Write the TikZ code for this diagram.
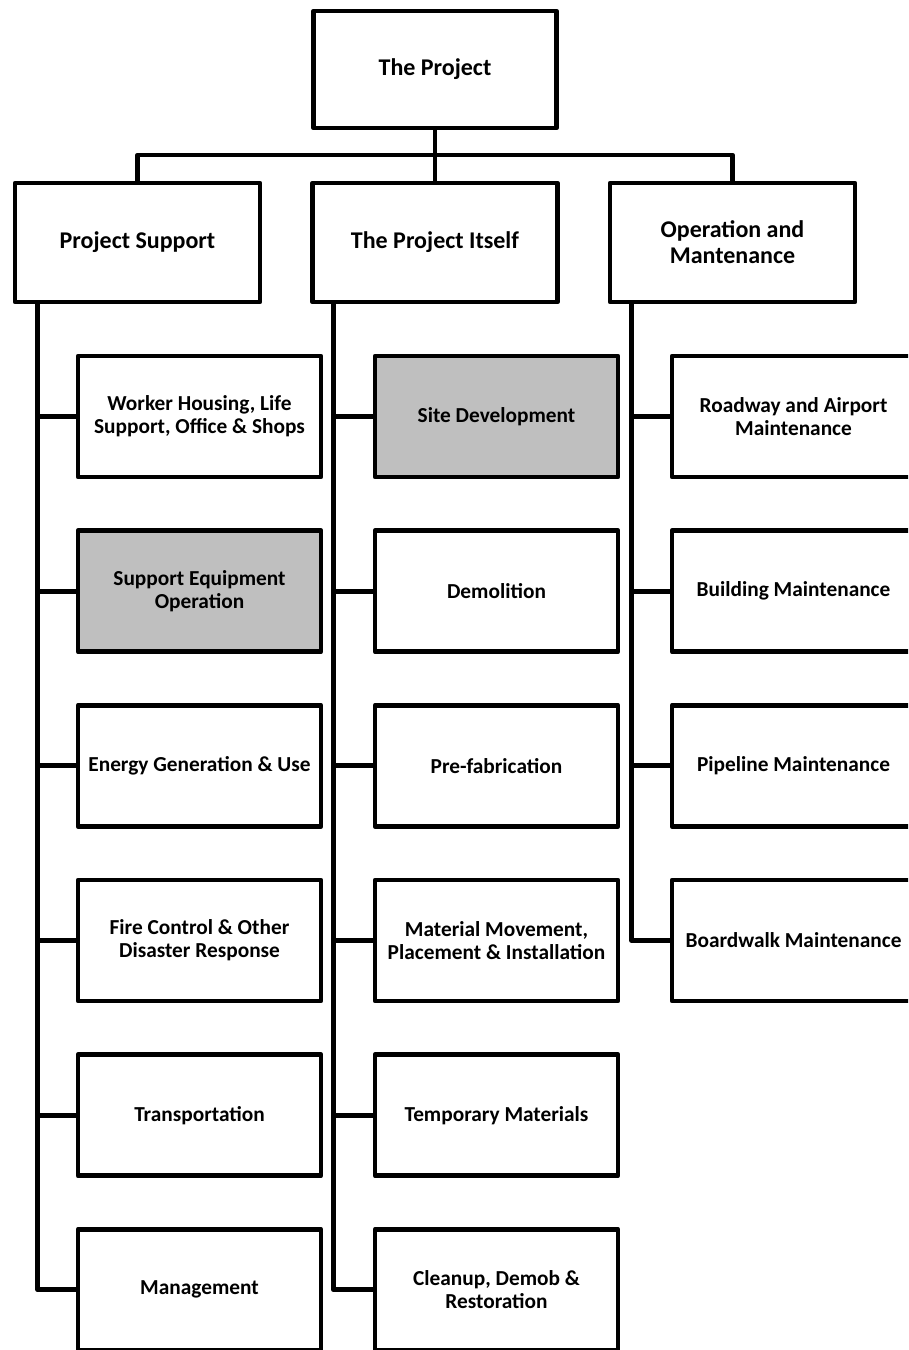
\documentclass[tikz,border=0pt]{standalone}
\usepackage{fontspec}
\setmainfont{Carlito}
\usetikzlibrary{calc}
\definecolor{boxgray}{HTML}{BFBFBF}
\begin{document}
\begin{tikzpicture}[x=0.75pt,y=-0.75pt,
  line width=3.5pt, line join=round,
  base/.style={draw=black, fill=white, align=center, inner sep=0pt, font=\bfseries},
  topbox/.style={base, minimum width=243*0.75pt, minimum height=117*0.75pt, font=\fontsize{18pt}{19.5pt}\bfseries\selectfont},
  midbox/.style={base, minimum width=245*0.75pt, minimum height=119*0.75pt, font=\fontsize{18pt}{19.5pt}\bfseries\selectfont},
  leafbox/.style={base, minimum width=243*0.75pt, minimum height=121*0.75pt, font=\fontsize{16pt}{17.3pt}\bfseries\selectfont},
  shaded/.style={fill=boxgray},
  conn/.style={draw=black, line width=3.5pt}]
\useasboundingbox (0,0) rectangle (908,1350);
\begin{scope}
\clip (0,0) rectangle (908,1350);
% top
\node[topbox] (top) at (435,69.5) {The Project};
\node[midbox] (ps) at (137.5,242.5) {Project Support};
\node[midbox] (pi) at (435,242.5) {The Project Itself};
\node[midbox] (om) at (732.5,242.5) {Operation and\\Mantenance};
% leaves
\node[leafbox] (a1) at (199.5,416.5) {Worker Housing, Life\\Support, Office \& Shops};
\node[leafbox,shaded] (a2) at (199.5,591.2) {Support Equipment\\Operation};
\node[leafbox] (a3) at (199.5,765.8) {Energy Generation \& Use};
\node[leafbox] (a4) at (199.5,940.5) {Fire Control \& Other\\Disaster Response};
\node[leafbox] (a5) at (199.5,1115.2) {Transportation};
\node[leafbox] (a6) at (199.5,1289.8) {Management};
\node[leafbox,shaded] (b1) at (496.5,416.5) {Site Development};
\node[leafbox] (b2) at (496.5,591.2) {Demolition};
\node[leafbox] (b3) at (496.5,765.8) {Pre-fabrication};
\node[leafbox] (b4) at (496.5,940.5) {Material Movement,\\Placement \& Installation};
\node[leafbox] (b5) at (496.5,1115.2) {Temporary Materials};
\node[leafbox] (b6) at (496.5,1289.8) {Cleanup, Demob \&\\Restoration};
\node[leafbox] (c1) at (793.5,416.5) {Roadway and Airport\\Maintenance};
\node[leafbox] (c2) at (793.5,591.2) {Building Maintenance};
\node[leafbox] (c3) at (793.5,765.8) {Pipeline Maintenance};
\node[leafbox] (c4) at (793.5,940.5) {Boardwalk Maintenance};
% connectors
\coordinate (bar) at (435,155);
\draw[conn] (top.south) -- (bar);
\draw[conn] (ps.north) |- (bar) -| (om.north);
\draw[conn] (bar) -- (pi.north);
\coordinate (sa) at ($(ps.south west)+(25,0)$);
\coordinate (sb) at ($(pi.south west)+(23,0)$);
\coordinate (sc) at ($(om.south west)+(24,0)$);
\foreach \n in {a1,a2,a3,a4,a5,a6} \draw[conn] (sa) |- (\n.west);
\foreach \n in {b1,b2,b3,b4,b5,b6} \draw[conn] (sb) |- (\n.west);
\foreach \n in {c1,c2,c3,c4} \draw[conn] (sc) |- (\n.west);
\end{scope}
\end{tikzpicture}
\end{document}
